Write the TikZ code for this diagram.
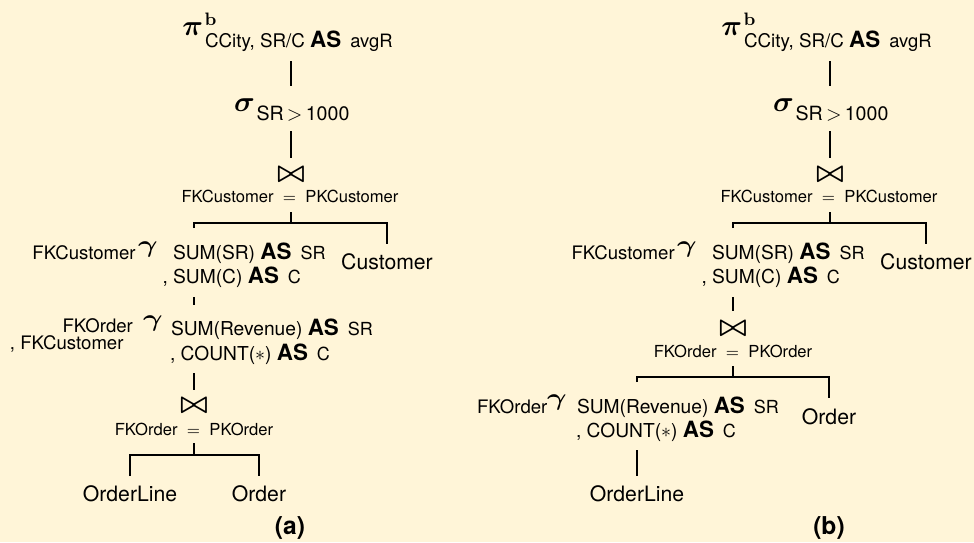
\documentclass[tikz,border=0pt]{standalone}
\usepackage{amsmath}
\usepackage{graphicx}
\usepackage[no-math]{fontspec}
\setmainfont{TeX Gyre Heros}
\definecolor{bgc}{RGB}{255,245,216}
\newcommand{\kwAS}{{\fontsize{11.2}{13}\selectfont\bfseries AS}\hspace{4.5pt}}
\newcommand{\smw}[1]{{\fontsize{9}{11}\selectfont #1}}
\newcommand{\gsymb}{\scalebox{1.25}[1]{$\boldsymbol{\gamma}$}}
\begin{document}
\begin{tikzpicture}[x=0.5pt, y=-0.5pt,
  every node/.style={inner sep=0pt, outer sep=0pt},
  opn/.style={font=\fontsize{14.4}{17}\selectfont, anchor=base east},
  supt/.style={font=\fontsize{9}{11}\selectfont, anchor=base west},
  subt/.style={font=\fontsize{9.4}{11}\selectfont, anchor=base west},
  jsym/.style={font=\fontsize{14.4}{16}\selectfont, anchor=center},
  cond/.style={font=\fontsize{8.3}{10}\selectfont, anchor=base},
  rel/.style={font=\fontsize{10.6}{12}\selectfont, anchor=base},
  agg/.style={font=\fontsize{9.6}{11.5}\selectfont, anchor=base west},
  gkey/.style={font=\fontsize{9.3}{11}\selectfont, anchor=base west},
  gsym/.style={font=\fontsize{12}{14}\selectfont, anchor=base west},
  lab/.style={font=\fontsize{12.3}{14}\selectfont\bfseries, anchor=base},
  edge/.style={line width=0.8pt}]
\fill[bgc] (0,0) rectangle (974,542);
\useasboundingbox (0,0) rectangle (974,542);

% ---------------- tree (a) ----------------
\node[opn] (pA) at (203,35) {$\boldsymbol{\pi}$};
\node[supt] (pAb) at (204.5,25) {$\mathbf{b}$};
\node[subt] (pAs) at (205,47.5) {CCity, SR/C \kwAS{\fontsize{9.2}{11}\selectfont avgR}};
\node[opn] (sA) at (255,111) {$\boldsymbol{\sigma}$};
\node[subt, font=\fontsize{9.8}{11}\selectfont] (sAs) at (256.5,120) {SR\,$>$\,1000};
\node[jsym] (jA) at (291,174.5) {$\boldsymbol{\bowtie}$};
\node[cond] (jlA) at (290,202.5) {FKCustomer $\;=\;$ PKCustomer};
\node[rel] (custA) at (387,269) {Customer};

\node[gkey] (gA1k) at (32.5,259.5) {FKCustomer};
\node[gsym] (gA1g) at (138,252.5) {\gsymb};
\node[agg] (gA1a) at (173,259) {SUM(SR) \kwAS\smw{SR}};
\node[agg] (gA1b) at (162.5,283) {, SUM(C) \kwAS\smw{C}};

\node[gkey] (gA2k) at (62.5,332) {FKOrder};
\node[gkey] (gA2k2) at (10,349) {, FKCustomer};
\node[gsym] (gA2g) at (143,326) {\gsymb};
\node[agg] (gA2a) at (171,335) {SUM(Revenue) \kwAS\smw{SR}};
\node[agg] (gA2b) at (170,360) {, COUNT($\ast$) \kwAS\smw{C}};

\node[jsym] (jbA) at (194,405.5) {$\boldsymbol{\bowtie}$};
\node[cond] (jlbA) at (194,435) {FKOrder $\;=\;$ PKOrder};
\node[rel] (olA) at (130,501) {OrderLine};
\node[rel] (orA) at (259,501) {Order};
\node[lab] (capA) at (290,534) {(a)};

\draw[edge] (jA |- 0,61) -- (jA |- 0,86);
\draw[edge] (jA |- 0,131) -- (jA |- 0,158);
\draw[edge] (jA |- 0,212) -- (jA |- 0,223);
\draw[edge] (jbA |- 0,228) |- (custA |- 0,223) -- (custA |- 0,244);
\draw[edge] (jbA |- 0,297) -- (jbA |- 0,305);
\draw[edge] (jbA |- 0,373) -- (jbA |- 0,390);
\draw[edge] (jbA |- 0,443) -- (jbA |- 0,455);
\draw[edge] (olA |- 0,476) |- (orA |- 0,455) -- (orA |- 0,476);

% ---------------- tree (b) ----------------
\node[opn] (pB) at (742,35) {$\boldsymbol{\pi}$};
\node[supt] (pBb) at (743.5,25) {$\mathbf{b}$};
\node[subt] (pBs) at (744,47.5) {CCity, SR/C \kwAS{\fontsize{9.2}{11}\selectfont avgR}};
\node[opn] (sB) at (794,111) {$\boldsymbol{\sigma}$};
\node[subt, font=\fontsize{9.8}{11}\selectfont] (sBs) at (795.5,120) {SR\,$>$\,1000};
\node[jsym] (jB) at (830,174.5) {$\boldsymbol{\bowtie}$};
\node[cond] (jlB) at (829,202.5) {FKCustomer $\;=\;$ PKCustomer};
\node[rel] (custB) at (926,269) {Customer};

\node[gkey] (gB1k) at (571.5,259.5) {FKCustomer};
\node[gsym] (gB1g) at (677,252.5) {\gsymb};
\node[agg] (gB1a) at (712,259) {SUM(SR) \kwAS\smw{SR}};
\node[agg] (gB1b) at (701.5,283) {, SUM(C) \kwAS\smw{C}};

\node[jsym] (jcB) at (733,328.5) {$\boldsymbol{\bowtie}$};
\node[cond] (jlcB) at (733,357) {FKOrder $\;=\;$ PKOrder};
\node[rel] (orB) at (829,424) {Order};

\node[gkey] (gB2k) at (477,413) {FKOrder};
\node[gsym] (gB2g) at (547,405) {\gsymb};
\node[agg] (gB2a) at (577,413) {SUM(Revenue) \kwAS\smw{SR}};
\node[agg] (gB2b) at (576,437) {, COUNT($\ast$) \kwAS\smw{C}};

\node[rel] (olB) at (637,501) {OrderLine};
\node[lab] (capB) at (829,534) {(b)};

\draw[edge] (jB |- 0,61) -- (jB |- 0,86);
\draw[edge] (jB |- 0,131) -- (jB |- 0,158);
\draw[edge] (jB |- 0,212) -- (jB |- 0,223);
\draw[edge] (jcB |- 0,228) |- (custB |- 0,223) -- (custB |- 0,244);
\draw[edge] (jcB |- 0,297) -- (jcB |- 0,311);
\draw[edge] (jcB |- 0,366) -- (jcB |- 0,377);
\draw[edge] (olB |- 0,382) |- (orB |- 0,377) -- (orB |- 0,398);
\draw[edge] (olB |- 0,450) -- (olB |- 0,476);
\end{tikzpicture}
\end{document}
